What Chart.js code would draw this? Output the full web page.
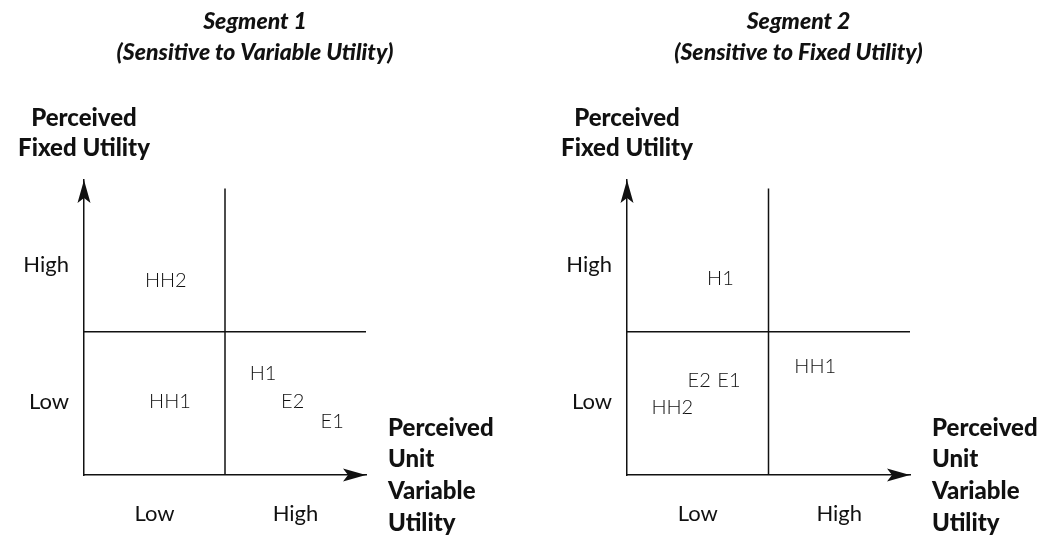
<!DOCTYPE html>
<html>
<head>
<meta charset="utf-8">
<script src="https://cdn.jsdelivr.net/npm/chart.js@4.4.0/dist/chart.umd.min.js"></script>
<style>
  html, body { margin: 0; padding: 0; background: #fff; }
  #wrap { position: relative; width: 1064px; height: 535px; }
  canvas { position: absolute; top: 0; }
  #seg1 { left: 0; }
  #seg2 { left: 532px; }
</style>
</head>
<body>
<div id="wrap">
  <canvas id="seg1" width="532" height="535"></canvas>
  <canvas id="seg2" width="532" height="535"></canvas>
</div>
<script>
// shared axis categories (both axes run Low -> High)
const levelLabels = ["Low", "High"];
const xTickValues = [2.5, 7.5];
const yTickValues = [2.55, 7.35];
const quadrantSplit = 5;
const yAxisTitle = ["Perceived", "Fixed Utility"];
const xAxisTitle = ["Perceived", "Unit", "Variable", "Utility"];

// Segment 1
const seg1Title = ["Segment 1", "(Sensitive to Variable Utility)"];
const seg1Names = ["HH2", "HH1", "H1", "E2", "E1"];
const seg1Variable = [2.9, 3.05, 6.35, 7.4, 8.8];
const seg1Fixed = [6.8, 2.55, 3.55, 2.55, 1.85];

// Segment 2
const seg2Title = ["Segment 2", "(Sensitive to Fixed Utility)"];
const seg2Names = ["H1", "E2", "E1", "HH2", "HH1"];
const seg2Variable = [3.3, 2.55, 3.6, 1.6, 6.65];
const seg2Fixed = [6.85, 3.3, 3.3, 2.35, 3.8];

const ink = "#111";
const fontFamily = "Lato, 'Open Sans', sans-serif";

function arrowHead(ctx, x, y, angle) {
    ctx.save();
    ctx.translate(x, y);
    ctx.rotate(angle);
    ctx.beginPath();
    ctx.moveTo(0, 0);
    ctx.lineTo(-23, -6.5);
    ctx.lineTo(-18, 0);
    ctx.lineTo(-23, 6.5);
    ctx.closePath();
    ctx.fill();
    ctx.restore();
}

// labels for the brands, arrows, titles
const quadrantText = {
    id: "quadrantText",
    afterDatasetsDraw(chart, args, opts) {
        const ctx = chart.ctx;
        const xs = chart.scales.x;
        const ys = chart.scales.y;
        ctx.save();
        ctx.fillStyle = ink;
        ctx.textAlign = "center";
        ctx.textBaseline = "middle";

        ctx.font = "300 20px " + fontFamily;
        chart.getDatasetMeta(0).data.forEach(function (pt, i) {
            ctx.fillText(opts.names[i], pt.x, pt.y);
        });

        arrowHead(ctx, xs.getPixelForValue(xs.max), ys.getPixelForValue(0), 0);
        arrowHead(ctx, xs.getPixelForValue(0), ys.getPixelForValue(ys.max), -Math.PI / 2);

        const midX = (xs.left + xs.right) / 2 + 30;
        ctx.font = "italic 900 23px " + fontFamily;
        ctx.fillText(opts.title[0], midX, 22);
        ctx.fillText(opts.title[1], midX, 53);

        ctx.font = "900 24px " + fontFamily;
        const yAxisX = xs.getPixelForValue(0);
        yAxisTitle.forEach(function (t, i) {
            ctx.fillText(t, yAxisX, ys.top - 62 + i * 30.5);
        });

        ctx.textAlign = "left";
        xAxisTitle.forEach(function (t, i) {
            ctx.fillText(t, xs.right + 22, 428 + i * 31.7);
        });
        ctx.restore();
    }
};

function buildChart(id, names, xVals, yVals, title, axisWidth, rightPad) {
    const points = names.map(function (n, i) { return { x: xVals[i], y: yVals[i] }; });
    const lineStyle = { showLine: true, borderColor: ink, borderWidth: 1.5, pointRadius: 0, fill: false };

    new Chart(document.getElementById(id).getContext("2d"), {
        type: "scatter",
        data: {
            datasets: [
                { label: "brands", data: points, pointRadius: 0 },
                Object.assign({ label: "split-v", data: [{ x: quadrantSplit, y: 0 }, { x: quadrantSplit, y: 10 }] }, lineStyle),
                Object.assign({ label: "split-h", data: [{ x: 0, y: quadrantSplit }, { x: 10, y: quadrantSplit }] }, lineStyle)
            ]
        },
        options: {
            responsive: false,
            animation: false,
            events: [],
            devicePixelRatio: 1,
            layout: { padding: { top: 180, right: rightPad, left: 0, bottom: 0 } },
            plugins: {
                legend: { display: false },
                tooltip: { enabled: false },
                quadrantText: { names: names, title: title }
            },
            scales: {
                x: {
                    type: "linear",
                    min: 0,
                    max: 10,
                    afterBuildTicks: function (s) { s.ticks = xTickValues.map(function (v) { return { value: v }; }); },
                    afterFit: function (s) { s.height = 60; },
                    ticks: {
                        autoSkip: false,
                        maxRotation: 0,
                        padding: 26,
                        color: ink,
                        font: { family: fontFamily, size: 22 },
                        callback: function (v, i) { return levelLabels[i]; }
                    },
                    grid: { display: false, drawTicks: false },
                    border: { display: true, color: ink, width: 1.5 }
                },
                y: {
                    type: "linear",
                    min: 0,
                    max: 10.3,
                    afterBuildTicks: function (s) { s.ticks = yTickValues.map(function (v) { return { value: v }; }); },
                    afterFit: function (s) { s.width = axisWidth; },
                    ticks: {
                        autoSkip: false,
                        padding: 15,
                        color: ink,
                        font: { family: fontFamily, size: 22 },
                        callback: function (v, i) { return levelLabels[i]; }
                    },
                    grid: { display: false, drawTicks: false },
                    border: { display: true, color: ink, width: 1.5 }
                }
            }
        },
        plugins: [quadrantText]
    });
}

buildChart("seg1", seg1Names, seg1Variable, seg1Fixed, seg1Title, 84, 166);
buildChart("seg2", seg2Names, seg2Variable, seg2Fixed, seg2Title, 95, 154);
</script>
</body>
</html>
